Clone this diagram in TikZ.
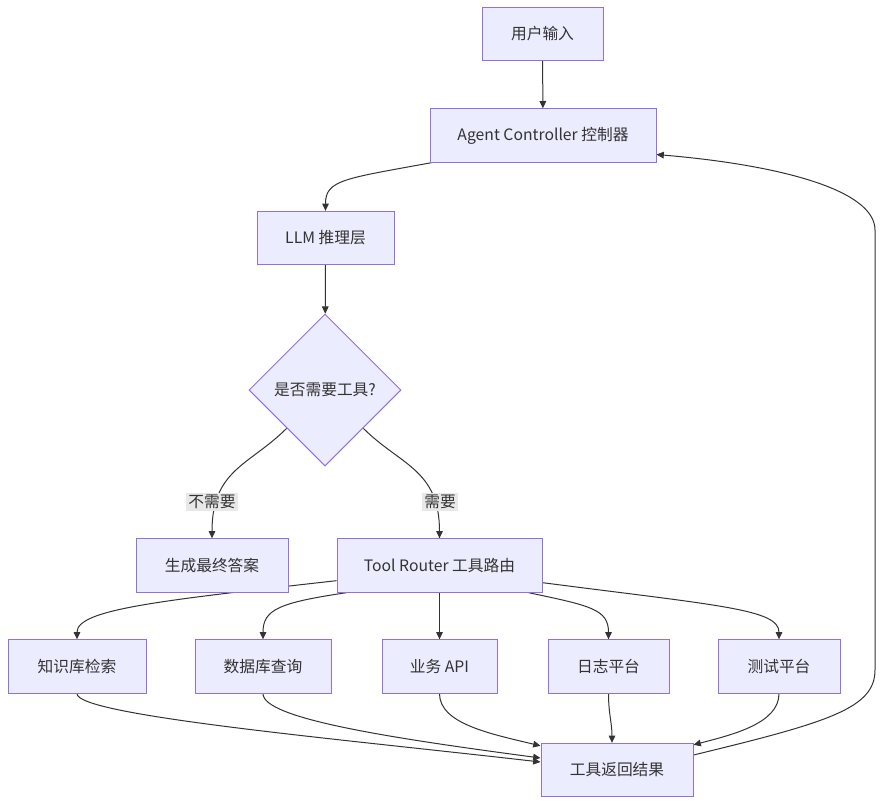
\documentclass[tikz,border=0pt]{standalone}
\usepackage{fontspec}
\setmainfont{Noto Sans CJK SC}
\usepackage{xcolor}
\usepackage{tikz}
\usetikzlibrary{arrows.meta,shapes.geometric,positioning,calc,backgrounds}

\definecolor{mmfill}{HTML}{ECECFF}
\definecolor{mmline}{HTML}{9370DB}
\definecolor{mmedge}{HTML}{333333}
\definecolor{mmlabel}{HTML}{E8E8E8}

\begin{document}
\begin{tikzpicture}[x=0.75pt, y=0.75pt,
		box/.style={draw=mmline, fill=mmfill, line width=0.75pt, minimum height=40pt, inner sep=0pt, text=mmedge, font=\fontsize{11.8}{14}\selectfont},
		decision/.style={diamond, aspect=1, draw=mmline, fill=mmfill, line width=0.75pt, minimum size=114pt, inner sep=0pt, text=mmedge, font=\fontsize{11.8}{14}\selectfont},
		link/.style={draw=mmedge, line width=0.75pt, -{Triangle[length=5.5pt,width=5pt]}},
		lbl/.style={fill=mmlabel, inner sep=1.5pt, text=mmedge, font=\fontsize{11.8}{14}\selectfont}]
		\useasboundingbox (0,0) rectangle (883,-804);

		% main chain
		\node[box, minimum width=90.75pt] (input) at (542.5,-34) {用户输入};
		\node[box, minimum width=169.5pt] (ctrl) at (543,-135.5) {Agent Controller 控制器};
		\node[box, minimum width=102.75pt] (llm) at (325.5,-238) {LLM 推理层};
		\node[decision] (dec) at (325,-390) {是否需要工具?};
		\node[box, minimum width=114pt] (final) at (212,-565.5) {生成最终答案};
		\node[box, minimum width=153.75pt] (router) at (439.5,-565.5) {Tool Router 工具路由};

		% tools
		\foreach \name/\x/\w/\txt in {kb/77/103.5/知识库检索, db/263/102/数据库查询, api/439.5/86.25/业务 API, log/608.5/90.75/日志平台, test/779/91.5/测试平台} {
				\node[box, minimum width=\w pt] (\name) at (\x,-666.5) {\txt};
			}

		\node[box, minimum width=114pt] (result) at (617,-770) {工具返回结果};

		\begin{scope}[on background layer]
			\draw[link] (input) -- (ctrl);
			\draw[link] ($(ctrl.south west)+(2,0)$) .. controls +(-87,-16) and +(0,31) .. (llm.north);
			\draw[link] (llm) -- (dec);
			\draw[link] (dec.south west) .. controls +(-37,-37) and +(0,69) .. (final.north);
			\draw[link] (dec.south east) .. controls +(37,-37) and +(0,69) .. (router.north);

			\draw[link] ($(router.south west)+(0,12)$) .. controls +(-177,-20) and +(0,30) .. (kb.north);
			\draw[link] ($(router.south west)+(10,0)$) .. controls +(-67,-10) and +(0,30) .. (db.north);
			\draw[link] (router) -- (api);
			\draw[link] ($(router.south east)+(-14,0)$) .. controls +(62,-13) and +(0,30) .. (log.north);
			\draw[link] ($(router.south east)+(0,10)$) .. controls +(178,-23) and +(0,30) .. (test.north);

			\draw[link] (kb.south) .. controls +(0,-22) and +(-200,23) .. ($(result.west)+(0,8)$);
			\draw[link] (db.south) .. controls +(0,-25) and +(-150,20) .. ($(result.west)+(0,12)$);
			\draw[link] (api.south) .. controls +(0,-30) and +(-50,12) .. ($(result.north west)+(0,-3)$);
			\draw[link] (log.south) .. controls +(0,-20) and +(0,20) .. ($(result.north)+(-5,0)$);
			\draw[link] (test.south) .. controls +(0,-30) and +(38,10) .. ($(result.north east)+(0,-2)$);

			% loop back to the controller
			\draw[link] ($(result.east)+(0,15)$) .. controls (830,-722) and (875,-708) .. (875,-670) -- (875,-230) .. controls (875,-190) and (780,-165) .. ($(ctrl.east)+(0,-19)$);
		\end{scope}

		\node[lbl] (no) at (212,-502) {不需要};
		\node[lbl] (yes) at (440,-502) {需要};
	\end{tikzpicture}
\end{document}
